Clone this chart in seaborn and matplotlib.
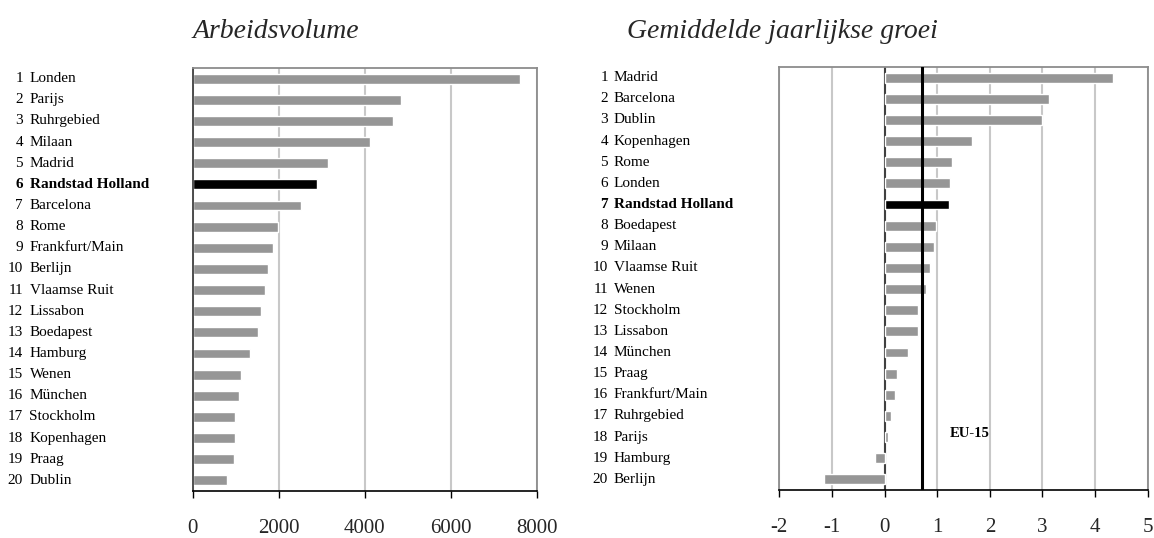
import numpy as np
import pandas as pd
import matplotlib
matplotlib.use("Agg")
import matplotlib.pyplot as plt
import seaborn as sns
from matplotlib.transforms import blended_transform_factory

# ---------------- data ----------------
left_title = "Arbeidsvolume"
left_names = ["Londen", "Parijs", "Ruhrgebied", "Milaan", "Madrid", "Randstad Holland",
              "Barcelona", "Rome", "Frankfurt/Main", "Berlijn", "Vlaamse Ruit", "Lissabon",
              "Boedapest", "Hamburg", "Wenen", "München", "Stockholm", "Kopenhagen",
              "Praag", "Dublin"]
left_values = [7600, 4840, 4650, 4120, 3140, 2880, 2510, 1980, 1860, 1750, 1680, 1580,
               1510, 1330, 1120, 1070, 980, 980, 950, 790]
left_ticks = [0, 2000, 4000, 6000, 8000]

right_title = "Gemiddelde jaarlijkse groei"
right_names = ["Madrid", "Barcelona", "Dublin", "Kopenhagen", "Rome", "Londen",
               "Randstad Holland", "Boedapest", "Milaan", "Vlaamse Ruit", "Wenen",
               "Stockholm", "Lissabon", "München", "Praag", "Frankfurt/Main",
               "Ruhrgebied", "Parijs", "Hamburg", "Berlijn"]
right_values = [4.34, 3.12, 3.00, 1.66, 1.29, 1.24, 1.22, 0.98, 0.94, 0.86, 0.78,
                0.64, 0.64, 0.45, 0.24, 0.20, 0.12, 0.07, -0.18, -1.15]
right_ticks = [-2, -1, 0, 1, 2, 3, 4, 5]
eu15_value = 0.72
eu15_label = "EU-15"
highlight = "Randstad Holland"

# ---------------- style ----------------
sns.set_theme(style="white")
plt.rcParams['font.family'] = ['Liberation Serif', 'DejaVu Serif']

W, H = 1154, 538
fig = plt.figure(figsize=(W / 100, H / 100), dpi=100)


def ax_at(x0, x1, ytop, ybot):
    return fig.add_axes([x0 / W, (H - ybot) / H, (x1 - x0) / W, (ybot - ytop) / H])


def panel(ax, names, values, ticks, num_x, name_x):
    df = pd.DataFrame({"name": names, "value": values,
                       "hl": ["yes" if n == highlight else "no" for n in names]})
    sns.barplot(data=df, x="value", y="name", hue="hl",
                palette={"no": "#969696", "yes": "#000000"},
                width=0.47, dodge=False, legend=False, saturation=1,
                orient="h", ax=ax, zorder=2)
    ax.set_ylim(len(names) - 0.5, -0.5)
    ax.set_xlim(ticks[0], ticks[-1])
    ax.set_xticks(ticks)
    ax.set_xticklabels([str(t) for t in ticks])
    ax.set_xlabel("")
    ax.set_ylabel("")
    ax.set_yticks([])
    ax.grid(axis="x", color="#c8c8c8", lw=1.5)
    ax.grid(axis="y", visible=False)
    ax.set_axisbelow(True)
    ax.tick_params(axis="x", direction="out", length=5, width=1, color="black",
                   pad=15, labelsize=15, bottom=True)
    for s in ["top", "right", "left"]:
        ax.spines[s].set_color("#8c8c8c")
        ax.spines[s].set_linewidth(1.3)
    ax.spines["bottom"].set_color("black")
    ax.spines["bottom"].set_linewidth(1.2)
    trans = blended_transform_factory(fig.transFigure, ax.transData)
    for i, n in enumerate(names):
        w = "bold" if n == highlight else "normal"
        ax.text(num_x / W, i, str(i + 1), transform=trans, ha="right", va="center",
                fontsize=11, fontweight=w, color="black")
        ax.text(name_x / W, i, n, transform=trans, ha="left", va="center",
                fontsize=11, fontweight=w, color="black")


axL = ax_at(192.7, 536.7, 68, 491)
panel(axL, left_names, left_values, left_ticks, 23, 29.5)
axL.spines["left"].set_color("#404040")

axR = ax_at(779.3, 1147.7, 67, 490)
panel(axR, right_names, right_values, right_ticks, 608, 614)
axR.axvline(0, color="#404040", lw=1.5, zorder=1.5)
axR.axvline(eu15_value, color="black", lw=2.2, zorder=3)
axR.text(1.23, 16.85, eu15_label, ha="left", va="center", fontsize=10.5,
         fontweight="bold", color="black")

fig.text(193 / W, 1 - 38 / H, left_title, style="italic", fontsize=20,
         ha="left", va="baseline")
fig.text(627 / W, 1 - 38 / H, right_title, style="italic", fontsize=20,
         ha="left", va="baseline")

fig.savefig("out.png", dpi=100)
